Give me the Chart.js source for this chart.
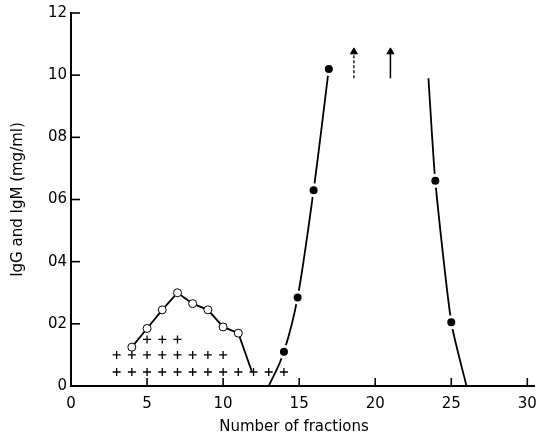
<!DOCTYPE html>
<html>
<head>
<meta charset="utf-8">
<script src="https://cdn.jsdelivr.net/npm/chart.js@4/dist/chart.umd.min.js"></script>
<style>
  html, body { margin: 0; padding: 0; background: #fff; }
  #wrap { width: 546px; height: 438px; }
</style>
</head>
<body>
<div id="wrap"><canvas id="chart"></canvas></div>
<script>
// Open circles (IgM) - last point is the end of the drawn line, no marker
const igmX = [4, 5, 6, 7, 8, 9, 10, 11, 11.9];
const igmY = [0.125, 0.185, 0.245, 0.30, 0.265, 0.245, 0.19, 0.17, 0.045];

// Filled circles (IgG) - rising limb and falling limb
const iggRiseX = [13, 14, 14.9, 15.95, 16.95];
const iggRiseY = [0, 0.11, 0.285, 0.63, 1.02];
const iggFallX = [23.5, 23.95, 25, 26];
const iggFallY = [0.99, 0.66, 0.205, 0];

// Plus signs, three rows
const plusRow1X = [3, 4, 5, 6, 7, 8, 9, 10, 11, 12, 13, 14];
const plusRow2X = [3, 4, 5, 6, 7, 8, 9, 10];
const plusRow3X = [5, 6, 7];
const plusRowY = [0.045, 0.10, 0.15];

// Off-scale arrows
const arrowX = [18.6, 21.0];
const arrowY = [0.99, 1.075];

// Axes
const xTicks = [0, 5, 10, 15, 20, 25, 30];
const yTicks = [0, 0.2, 0.4, 0.6, 0.8, 1.0, 1.2];
const yTickLabels = ['0', '02', '04', '06', '08', '10', '12'];

const FONT = 'DejaVu Sans, sans-serif';

function pts(xs, ys) {
    return xs.map((x, i) => ({ x: x, y: Array.isArray(ys) ? ys[i] : ys }));
}

// inward tick marks and x axis title
const axisExtras = {
    id: 'axisExtras',
    afterDraw(chart) {
        const ctx = chart.ctx;
        const xs = chart.scales.x;
        const ys = chart.scales.y;
        const area = chart.chartArea;
        ctx.save();
        ctx.strokeStyle = '#000';
        ctx.lineWidth = 1.6;
        xTicks.forEach(v => {
            if (v === 0) return;
            const px = xs.getPixelForValue(v);
            ctx.beginPath();
            ctx.moveTo(px, area.bottom);
            ctx.lineTo(px, area.bottom - 8);
            ctx.stroke();
        });
        yTicks.forEach(v => {
            if (v === 0) return;
            const py = ys.getPixelForValue(v);
            ctx.beginPath();
            ctx.moveTo(area.left, py);
            ctx.lineTo(area.left + 9, py);
            ctx.stroke();
        });
        ctx.fillStyle = '#000';
        ctx.font = '15px ' + FONT;
        ctx.textAlign = 'center';
        ctx.textBaseline = 'middle';
        ctx.fillText('Number of fractions', 294, 427);
        ctx.restore();
    }
};

const ctx = document.getElementById('chart').getContext('2d');
new Chart(ctx, {
    type: 'scatter',
    data: {
        datasets: [
            {
                // IgM open circles
                data: pts(igmX, igmY),
                showLine: true,
                borderColor: '#000',
                borderWidth: 1.8,
                tension: 0,
                pointRadius: igmX.map((x, i) => i === igmX.length - 1 ? 0 : 4),
                pointBackgroundColor: '#fff',
                pointBorderColor: '#000',
                pointBorderWidth: 1
            },
            {
                data: pts(iggRiseX, iggRiseY),
                showLine: true,
                borderColor: '#000',
                borderWidth: 1.8,
                cubicInterpolationMode: 'monotone',
                pointRadius: [0, 5.5, 5.5, 5.5, 5.5],
                pointBackgroundColor: '#000',
                pointBorderColor: '#fff',
                pointBorderWidth: 3
            },
            {
                data: pts(iggFallX, iggFallY),
                showLine: true,
                borderColor: '#000',
                borderWidth: 1.8,
                tension: 0.2,
                pointRadius: [0, 5.5, 5.5, 0],
                pointBackgroundColor: '#000',
                pointBorderColor: '#fff',
                pointBorderWidth: 3
            },
            {
                data: pts(plusRow1X, plusRowY[0]),
                pointStyle: 'cross',
                pointRadius: 4,
                pointBorderColor: '#000',
                pointBorderWidth: 1.3
            },
            {
                data: pts(plusRow2X, plusRowY[1]),
                pointStyle: 'cross',
                pointRadius: 4,
                pointBorderColor: '#000',
                pointBorderWidth: 1.3
            },
            {
                data: pts(plusRow3X, plusRowY[2]),
                pointStyle: 'cross',
                pointRadius: 4,
                pointBorderColor: '#000',
                pointBorderWidth: 1.3
            },
            {
                data: pts([arrowX[0], arrowX[0]], arrowY),
                showLine: true,
                borderColor: '#222',
                borderWidth: 1.5,
                borderDash: [3, 2],
                pointStyle: 'triangle',
                pointRadius: [0, 4],
                pointBackgroundColor: '#000',
                pointBorderColor: '#000',
                pointBorderWidth: 1
            },
            {
                data: pts([arrowX[1], arrowX[1]], arrowY),
                showLine: true,
                borderColor: '#000',
                borderWidth: 1.5,
                pointStyle: 'triangle',
                pointRadius: [0, 4],
                pointBackgroundColor: '#000',
                pointBorderColor: '#000',
                pointBorderWidth: 1
            }
        ]
    },
    options: {
        responsive: true,
        maintainAspectRatio: false,
        animation: false,
        layout: { padding: { top: 11, left: 0, right: 0, bottom: 0 } },
        plugins: {
            legend: { display: false },
            tooltip: { enabled: false }
        },
        scales: {
            x: {
                type: 'linear',
                min: 0,
                max: 30.5,
                afterBuildTicks: scale => { scale.ticks = xTicks.map(v => ({ value: v })); },
                afterFit: scale => { scale.height = 52; },
                grid: { display: false, drawTicks: false },
                border: { display: true, color: '#000', width: 2 },
                ticks: {
                    color: '#000',
                    padding: 9,
                    maxRotation: 0,
                    font: { family: FONT, size: 15 },
                    callback: v => String(v)
                }
            },
            y: {
                type: 'linear',
                min: 0,
                max: 1.2,
                afterBuildTicks: scale => { scale.ticks = yTicks.map(v => ({ value: v })); },
                afterFit: scale => { scale.width = 71; },
                grid: { display: false, drawTicks: false },
                border: { display: true, color: '#000', width: 2 },
                title: {
                    display: true,
                    text: 'IgG and IgM (mg/ml)',
                    color: '#000',
                    padding: { top: 9, bottom: 0 },
                    font: { family: FONT, size: 15 }
                },
                ticks: {
                    color: '#000',
                    padding: 4,
                    font: { family: FONT, size: 15 },
                    callback: (v, i) => yTickLabels[yTicks.indexOf(Math.round(v * 10) / 10)]
                }
            }
        }
    },
    plugins: [axisExtras]
});
</script>
</body>
</html>
